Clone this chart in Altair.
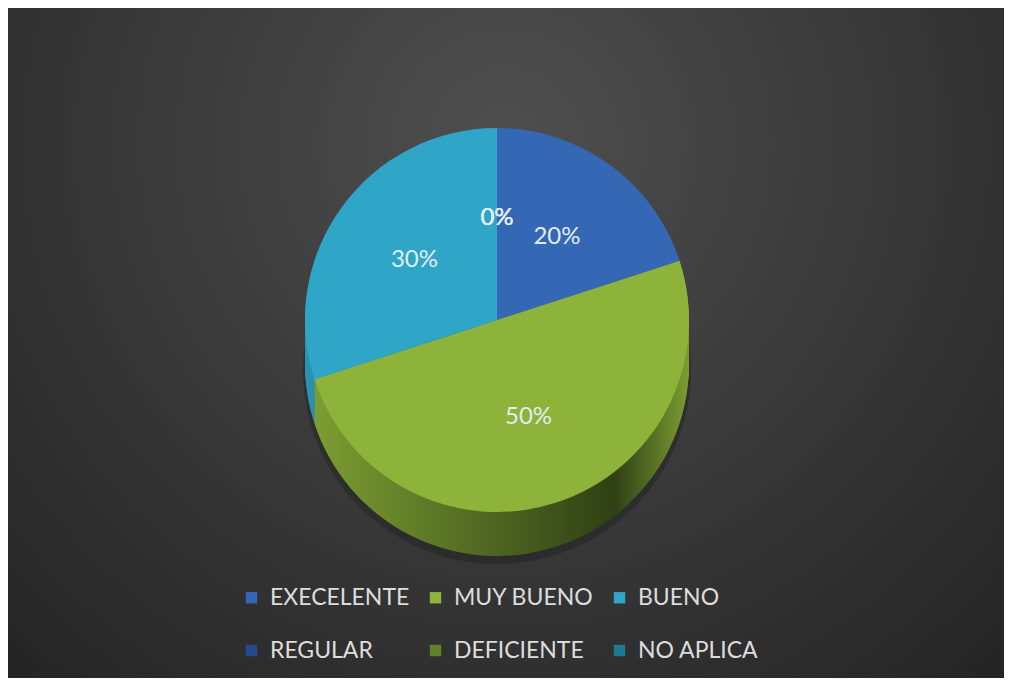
import altair as alt
import pandas as pd

# ---- data ----
categories = ["EXECELENTE", "MUY BUENO", "BUENO", "REGULAR", "DEFICIENTE", "NO APLICA"]
percent = [20, 50, 30, 0, 0, 0]
top_colors = ["#3468b4", "#8db33a", "#2fa5c8", "#26498c", "#61802a", "#1d7a93"]
side_light = ["#2c5797", "#7c9d32", "#2a93b2", "#1f3d74", "#53701f", "#17657a"]
side_dark = ["#1b3866", "#2f4015", "#176077", "#13284d", "#2c3b12", "#0e4352"]
depth_levels = list(range(44, 0, -2))

W, H = 996, 670
CX, CY, R = 489, 312, 192
FONT = "Lato"

base_df = pd.DataFrame({"cat": categories, "value": percent, "idx": list(range(len(categories)))})

theta_scale = alt.Scale(domain=[0, 1], range=[0, 6.283185307179586])


def with_angles(chart):
    return (
        chart.transform_joinaggregate(total="sum(value)")
        .transform_window(cum="sum(value)", sort=[alt.SortField("idx")], frame=[None, 0])
        .transform_calculate(
            start="(datum.cum - datum.value) / datum.total",
            end="datum.cum / datum.total",
            mid="(2 * datum.cum - datum.value) / (2 * datum.total)",
            label="format(datum.value / datum.total, '.0%')",
        )
    )


bg = alt.Chart(pd.DataFrame({"k": [0]})).mark_rect(
    fill=alt.Gradient(
        gradient="radial",
        x1=0.5, y1=0.3, r1=0, x2=0.5, y2=0.3, r2=0.75,
        stops=[
            alt.GradientStop(color="#4f4f4f", offset=0),
            alt.GradientStop(color="#3b3b3b", offset=0.45),
            alt.GradientStop(color="#232323", offset=1),
        ],
    )
).encode(x=alt.value(0), x2=alt.value(W), y=alt.value(0), y2=alt.value(H))

# soft shadow under the pie (decoration)
shadow = alt.Chart(pd.DataFrame({"k": [0]})).mark_arc(
    color="#151515", opacity=0.3
).encode(
    theta=alt.value(0), theta2=alt.value(6.283185307179586),
    radius=alt.value(R + 2), x=alt.value(CX), y=alt.value(CY + 50),
)

side_layers = []
for d in depth_levels:
    for i, cat in enumerate(categories):
        layer = with_angles(alt.Chart(base_df)).transform_filter(
            alt.datum.cat == cat
        ).mark_arc(
            fill=alt.Gradient(
                gradient="linear", x1=0, y1=0, x2=1, y2=0,
                stops=[
                    alt.GradientStop(color=side_light[i], offset=0),
                    alt.GradientStop(color=side_dark[i], offset=0.8),
                    alt.GradientStop(color=side_light[i], offset=1.0),
                ],
            ),
            strokeWidth=0,
        ).encode(
            theta=alt.Theta("start:Q", scale=theta_scale, stack=None),
            theta2="end:Q",
            radius=alt.value(R),
            x=alt.value(CX),
            y=alt.value(CY + d),
        )
        side_layers.append(layer)

top = with_angles(alt.Chart(base_df)).mark_arc(strokeWidth=0).encode(
    theta=alt.Theta("start:Q", scale=theta_scale, stack=None),
    theta2="end:Q",
    radius=alt.value(R),
    x=alt.value(CX),
    y=alt.value(CY),
    color=alt.Color(
        "cat:N",
        scale=alt.Scale(domain=categories, range=top_colors),
        legend=alt.Legend(
            title=None, orient="none", legendX=232, legendY=578,
            direction="horizontal", columns=3,
            symbolType="square", symbolSize=130, symbolStrokeWidth=0,
            labelFontSize=23, labelColor="#dddddd", labelFont=FONT,
            columnPadding=14, rowPadding=29, labelLimit=400, labelOffset=7,
        ),
    ),
)

labels = with_angles(alt.Chart(base_df)).mark_text(
    font=FONT, fontSize=24, color="#e2ecf4"
).encode(
    theta=alt.Theta("mid:Q", scale=theta_scale, stack=None),
    radius=alt.value(102),
    x=alt.value(CX),
    y=alt.value(CY),
    text="label:N",
)

chart = alt.layer(bg, shadow, *side_layers, top, labels).properties(
    width=W, height=H, padding=0,
    autosize=alt.AutoSizeParams(type="none"),
    background="#2a2a2a",
).configure_view(strokeWidth=0)

chart.save("out.html", embed_options={"renderer": "svg", "actions": False})
